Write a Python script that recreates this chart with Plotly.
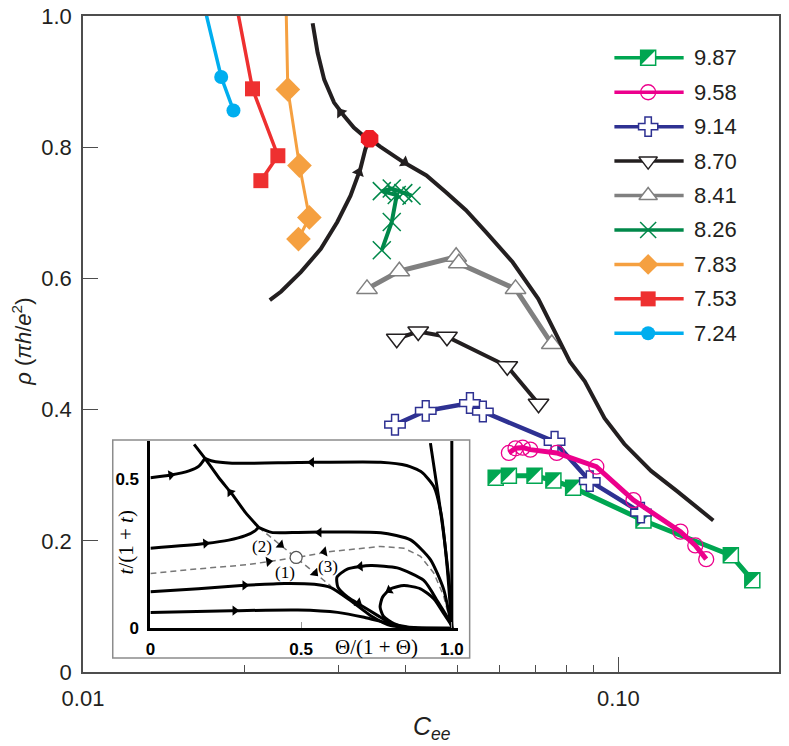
import plotly.graph_objects as go

# ---------------- main panel: rho vs C_ee ----------------
names = ["9.87", "9.58", "9.14", "8.70", "8.41", "8.26", "7.83", "7.53", "7.24"]

c_987 = [0.0590, 0.06244, 0.06972, 0.07562, 0.08232, 0.1114, 0.1622, 0.1779]
r_987 = [0.296, 0.299, 0.299, 0.292, 0.281, 0.231, 0.178, 0.140]

c_958 = [0.06244, 0.06425, 0.06627, 0.06847, 0.0767, 0.09095, 0.1067, 0.1306, 0.1392, 0.1459]
r_958 = [0.334, 0.341, 0.342, 0.339, 0.334, 0.313, 0.262, 0.214, 0.193, 0.172]

c_914 = [0.03826, 0.04367, 0.05281, 0.05583, 0.0760, 0.08841, 0.1102]
r_914 = [0.377, 0.398, 0.410, 0.397, 0.351, 0.291, 0.243]

c_870 = [0.03855, 0.04228, 0.04784, 0.06201, 0.07094]
r_870 = [0.508, 0.519, 0.511, 0.466, 0.409]

c_841 = [0.03392, 0.03898, 0.04977, 0.05034, 0.06425, 0.0751]
r_841 = [0.584, 0.611, 0.633, 0.623, 0.584, 0.500]

c_826 = [0.03615, 0.03773, 0.03855, 0.03615, 0.03773, 0.03965, 0.04108]
r_826 = [0.643, 0.686, 0.727, 0.733, 0.737, 0.730, 0.726]

c_783 = [0.0239, 0.02413, 0.02537, 0.02647, 0.02526]
r_783 = [1.05, 0.888, 0.772, 0.693, 0.660]

c_753 = [0.0190, 0.02073, 0.02312, 0.02149]
r_753 = [1.05, 0.889, 0.787, 0.749]

c_724 = [0.01645, 0.01812, 0.0191]
r_724 = [1.05, 0.907, 0.856]

# flow line through the fixed point
fp_c = [0.0343]
fp_r = [0.813]
flow_up_c = [0.02685, 0.02743, 0.02822, 0.02944, 0.03072, 0.03205, 0.03345, 0.0343]
flow_up_r = [0.989, 0.944, 0.903, 0.868, 0.848, 0.830, 0.817, 0.813]
flow_low_c = [0.0343, 0.03368, 0.03297, 0.0316, 0.02985, 0.02781, 0.02554, 0.02345, 0.02233]
flow_low_r = [0.813, 0.797, 0.767, 0.726, 0.686, 0.645, 0.610, 0.580, 0.567]
flow_right_c = [0.0343, 0.0359, 0.03971, 0.0438, 0.0477, 0.05192, 0.05654, 0.06343, 0.07085,
                0.07714, 0.08117, 0.08655, 0.09421, 0.1026, 0.1151, 0.1285, 0.1504]
flow_right_r = [0.813, 0.801, 0.777, 0.757, 0.731, 0.704, 0.671, 0.625, 0.569,
                0.508, 0.473, 0.443, 0.387, 0.3475, 0.3065, 0.276, 0.231]
flow_arrow_c = [0.03028, 0.03274, 0.03988]
flow_arrow_r = [0.853, 0.762, 0.777]
flow_arrow_ang = [-37, 21, 122]

# ---------------- inset: flow diagram t/(1+t) vs Theta/(1+Theta) ----------------
sep_x = [0.145, 0.181, 0.227, 0.271, 0.315, 0.359]
sep_y = [0.616, 0.569, 0.504, 0.449, 0.388, 0.338]
a_x = [0, 0.068, 0.128, 0.161, 0.181]
a_y = [0.504, 0.513, 0.527, 0.543, 0.569]
b_x = [0.181, 0.205, 0.271, 0.49, 0.764, 0.85, 0.90, 0.94, 0.965, 0.985, 1.0]
b_y = [0.569, 0.560, 0.553, 0.555, 0.556, 0.545, 0.523, 0.475, 0.38, 0.2, 0.0]
c_x = [0, 0.183, 0.26, 0.315, 0.348, 0.359]
c_y = [0.268, 0.284, 0.295, 0.31, 0.327, 0.338]
d_x = [0.359, 0.402, 0.49, 0.56, 0.764, 0.863, 0.929, 0.973, 1.0]
d_y = [0.338, 0.321, 0.321, 0.322, 0.320, 0.296, 0.230, 0.130, 0.0]
e_x = [0, 0.159, 0.313, 0.445, 0.544, 0.599, 0.665, 0.731, 0.797, 0.885, 1.0]
e_y = [0.1225, 0.1325, 0.1435, 0.150, 0.147, 0.136, 0.0916, 0.042, 0.0088, 0.001, 0]
f_x = [0, 0.269, 0.489, 0.621, 0.709, 0.797, 0.874, 1.0]
f_y = [0.053, 0.0585, 0.0607, 0.053, 0.0364, 0.0143, 0.002, 0]
g_x = [1.0, 0.951, 0.907, 0.819, 0.731, 0.655, 0.619, 0.622, 0.655, 0.698, 0.753, 0.808, 0.841, 1.0]
g_y = [0, 0.093, 0.16, 0.202, 0.21, 0.199, 0.171, 0.138, 0.104, 0.077, 0.043, 0.010, 0.001, 0]
h_x = [1.0, 0.973, 0.940, 0.896, 0.841, 0.797, 0.770, 0.762, 0.773, 0.808, 0.852, 1.0]
h_y = [0, 0.049, 0.099, 0.132, 0.143, 0.132, 0.104, 0.071, 0.040, 0.0157, 0.002, 0]
i_x = [0.929, 0.956, 0.978, 0.995, 1.0]
i_y = [0.62, 0.439, 0.274, 0.108, 0]
v_x = [1.0, 1.0]
v_y = [0, 0.627]
dash_x = [0, 0.159, 0.324, 0.4835, 0.599, 0.764, 0.841, 0.896, 0.940, 0.973, 1.0]
dash_y = [0.183, 0.199, 0.213, 0.237, 0.257, 0.274, 0.268, 0.241, 0.185, 0.108, 0.0]
diag_x = [0.359, 0.4835, 0.599]
diag_y = [0.338, 0.237, 0.141]
ifp_x = [0.4835]
ifp_y = [0.237]
ia_x = [0.068, 0.265, 0.535, 0.183, 0.56, 0.392, 0.577, 0.432, 0.546, 0.313, 0.69, 0.28, 0.696, 0.792]
ia_y = [0.513, 0.455, 0.556, 0.284, 0.321, 0.223, 0.256, 0.279, 0.185, 0.1435, 0.085, 0.059, 0.207, 0.127]
ia_ang = [80, -38, -90, 85, -90, 82, -100, 130, 135, 90, 125, 90, -95, -121]
lab_text = ["(2)", "(1)", "(3)"]
lab_x = [0.37, 0.445, 0.59]
lab_y = [0.274, 0.188, 0.2075]

# ---------------- styles ----------------
SANS = "Liberation Sans, Arial, Helvetica, sans-serif"
SERIF = "Liberation Serif, DejaVu Serif, serif"
INK = "#231f20"

series = [
    dict(c=c_987, r=r_987, color="#00a651", lw=5, sym="square", size=15, fill="white", olw=1.5),
    dict(c=c_914, r=r_914, color="#2e3192", lw=4.5, sym="cross", size=17, fill="white", olw=1.5),
    dict(c=c_958, r=r_958, color="#ec008c", lw=5, sym="circle-open", size=15, fill="#ec008c", olw=1.3),
    dict(c=c_870, r=r_870, color=INK, lw=4, sym="triangle-down", size=18, fill="white", olw=1.5),
    dict(c=c_841, r=r_841, color="#808080", lw=5, sym="triangle-up", size=18, fill="white", olw=1.5),
    dict(c=c_826, r=r_826, color="#00884a", lw=4, sym="x-thin-open", size=18, fill="#00884a", olw=1.5),
    dict(c=c_783, r=r_783, color="#f5a040", lw=3, sym="diamond", size=19, fill="#f5a040", olw=0),
    dict(c=c_753, r=r_753, color="#ee3030", lw=3.5, sym="square", size=15, fill="#ee3030", olw=0),
    dict(c=c_724, r=r_724, color="#00aeef", lw=3.5, sym="circle", size=14, fill="#00aeef", olw=0),
]
order = [0, 2, 1, 3, 4, 5, 6, 7, 8]  # legend row (names index) of each series above

W, H = 789, 746
ML, MR, MT, MB = 83, 4, 13, 74
PW, PH = W - ML - MR, H - MT - MB
XLOG = [-2, -0.7]
PX_DEC = PW / (XLOG[1] - XLOG[0])
TRI_SHIFT = 2.5  # px, seats the right-angle triangle inside the square

fig = go.Figure()

for k, s in enumerate(series):
    line_col = s["color"]
    fig.add_trace(go.Scatter(
        x=s["c"], y=s["r"], mode="lines+markers",
        line=dict(color=line_col, width=s["lw"]),
        marker=dict(symbol=s["sym"], size=s["size"], color=s["fill"],
                    line=dict(color=line_col, width=s["olw"])),
        showlegend=False))
    if k == 0:
        fig.add_trace(go.Scatter(
            x=[c * 10 ** (-TRI_SHIFT / PX_DEC) for c in s["c"]],
            y=[r + TRI_SHIFT / PH for r in s["r"]],
            mode="markers",
            marker=dict(symbol="triangle-nw", size=s["size"] * 1.11, color=line_col, line=dict(width=0)),
            showlegend=False))

for fc, fr in [(flow_up_c, flow_up_r), (flow_low_c, flow_low_r), (flow_right_c, flow_right_r)]:
    fig.add_trace(go.Scatter(x=fc, y=fr, mode="lines", line=dict(color=INK, width=4),
                             showlegend=False))
fig.add_trace(go.Scatter(x=flow_arrow_c, y=flow_arrow_r, mode="markers",
                         marker=dict(symbol="triangle-up", size=11, color=INK, angle=flow_arrow_ang),
                         showlegend=False))
fig.add_trace(go.Scatter(x=fp_c, y=fp_r, mode="markers",
                         marker=dict(symbol="octagon", size=19, color="#ed1c24"),
                         showlegend=False))

# ---- inset traces ----
for dx, dy in [(dash_x, dash_y), (diag_x, diag_y)]:
    fig.add_trace(go.Scatter(x=dx, y=dy, mode="lines", xaxis="x2", yaxis="y2",
                             line=dict(color="#777777", width=1.5, dash="6px,4px"), showlegend=False))
for cx, cy in [(sep_x, sep_y), (a_x, a_y), (b_x, b_y), (c_x, c_y), (d_x, d_y), (e_x, e_y),
               (f_x, f_y), (g_x, g_y), (h_x, h_y), (i_x, i_y), (v_x, v_y)]:
    fig.add_trace(go.Scatter(x=cx, y=cy, mode="lines", xaxis="x2", yaxis="y2",
                             line=dict(color="black", width=3, shape="spline", smoothing=0.6),
                             showlegend=False))
fig.add_trace(go.Scatter(x=ifp_x, y=ifp_y, mode="markers", xaxis="x2", yaxis="y2",
                         marker=dict(symbol="circle", size=12, color="white",
                                     line=dict(color="#555555", width=1.2)),
                         showlegend=False))
fig.add_trace(go.Scatter(x=ia_x, y=ia_y, mode="markers", xaxis="x2", yaxis="y2",
                         marker=dict(symbol="triangle-up", size=9, color="black", angle=ia_ang),
                         showlegend=False))

# ---- hand-drawn legend on a hidden full-size axis ----
LEG_X0, LEG_X1, LEG_XM, LEG_XT = 0.7635, 0.863, 0.812, 0.8746
LEG_Y0, LEG_DY = 0.9363, 0.0525
annotations = []
for k, s in enumerate(series):
    i = order[k]
    yy = LEG_Y0 - i * LEG_DY
    fig.add_trace(go.Scatter(x=[LEG_X0, LEG_X1], y=[yy, yy], mode="lines", xaxis="x3", yaxis="y3",
                             line=dict(color=s["color"], width=3.5), showlegend=False))
    msize = min(s["size"], 16)
    fig.add_trace(go.Scatter(x=[LEG_XM], y=[yy], mode="markers", xaxis="x3", yaxis="y3",
                             marker=dict(symbol=s["sym"], size=msize, color=s["fill"],
                                         line=dict(color=s["color"], width=s["olw"])),
                             showlegend=False))
    if k == 0:
        fig.add_trace(go.Scatter(x=[LEG_XM - TRI_SHIFT / PW], y=[yy + TRI_SHIFT / PH], mode="markers",
                                 xaxis="x3", yaxis="y3",
                                 marker=dict(symbol="triangle-nw", size=msize * 1.11, color=s["color"],
                                             line=dict(width=0)),
                                 showlegend=False))
    annotations.append(dict(x=LEG_XT, y=yy, xref="paper", yref="paper", text=names[i],
                            showarrow=False, xanchor="left", yanchor="middle",
                            font=dict(family=SANS, size=22, color=INK)))

for t, lx, ly in zip(lab_text, lab_x, lab_y):
    annotations.append(dict(x=lx, y=ly, xref="x2", yref="y2", text=t, showarrow=False,
                            xanchor="center", yanchor="middle",
                            font=dict(family=SERIF, size=17, color="black")))

titles = [
    dict(x=0.5014, y=-0.085, text="<i>C<sub>ee</sub></i>", angle=0, font=dict(family=SANS, size=25, color=INK)),
    dict(x=-0.087, y=0.504, text="<i>ρ</i> (<i>πh</i>/<i>e</i><sup>2</sup>)", angle=-90,
         font=dict(family=SANS, size=22, color=INK)),
    dict(x=0.4217, y=0.038, text="Θ/(1 + Θ)", angle=0, font=dict(family=SERIF, size=21, color="black")),
    dict(x=0.0613, y=0.197, text="<i>t</i>/(1 + <i>t</i>)", angle=-90,
         font=dict(family=SERIF, size=21, color="black")),
]
for t in titles:
    annotations.append(dict(x=t["x"], y=t["y"], xref="paper", yref="paper", text=t["text"],
                            textangle=t["angle"], showarrow=False, xanchor="center",
                            yanchor="middle", font=t["font"]))

axis_line = "#4d4d4d"
inset_tick_font = dict(family=SANS, size=17, color="black", weight="bold")
fig.update_layout(
    width=W, height=H,
    margin=dict(l=ML, r=MR, t=MT, b=MB),
    paper_bgcolor="white",
    plot_bgcolor="rgba(0,0,0,0)",
    showlegend=False,
    xaxis=dict(type="log", range=XLOG, showgrid=False, zeroline=False,
               showline=True, mirror=True, linecolor=axis_line, linewidth=1.5,
               ticks="inside", ticklen=15, tickwidth=1.2, tickcolor=axis_line,
               tickvals=[0.01, 0.1], ticktext=["0.01", "0.10"],
               minor=dict(ticks="inside", ticklen=7, tickwidth=1.2, tickcolor=axis_line,
                          tickvals=[0.02, 0.03, 0.04, 0.05, 0.06, 0.07, 0.08, 0.09]),
               tickfont=dict(family=SANS, size=22, color=INK), ticklabelstandoff=6,
               ticklabeloverflow="allow"),
    yaxis=dict(range=[0, 1], showgrid=False, zeroline=False,
               showline=True, mirror=True, linecolor=axis_line, linewidth=1.5,
               ticks="inside", ticklen=15, tickwidth=1.2, tickcolor=axis_line,
               tickvals=[0, 0.2, 0.4, 0.6, 0.8, 1.0],
               ticktext=["0", "0.2", "0.4", "0.6", "0.8", "1.0"],
               tickfont=dict(family=SANS, size=22, color=INK), ticklabelstandoff=5,
               ticklabeloverflow="allow"),
    xaxis2=dict(domain=[(151 - ML) / PW, (151 + 1.02 * 304 - ML) / PW], range=[0, 1.02],
                anchor="y2", showgrid=False, zeroline=False,
                showline=True, linecolor="black", linewidth=3,
                ticks="inside", ticklen=6, tickcolor="#999999",
                tickvals=[0, 0.5, 1.0], ticktext=["0", "0.5", "1.0"],
                tickfont=inset_tick_font, ticklabelstandoff=3),
    yaxis2=dict(domain=[(H - MB - 628) / PH, (H - MB - 440) / PH], range=[0, 0.627],
                anchor="x2", showgrid=False, zeroline=False,
                showline=True, linecolor="black", linewidth=3, ticks="",
                tickvals=[0, 0.5], ticktext=["0", "0.5"],
                tickfont=inset_tick_font, ticklabelstandoff=5),
    xaxis3=dict(domain=[0, 1], range=[0, 1], anchor="y3", visible=False),
    yaxis3=dict(domain=[0, 1], range=[0, 1], anchor="x3", visible=False),
    shapes=[dict(type="rect", xref="paper", yref="paper",
                 x0=(113 - ML) / PW, x1=(473 - ML) / PW,
                 y0=(H - MB - 658) / PH, y1=(H - MB - 439) / PH,
                 line=dict(color="#8c8c8c", width=1.5), fillcolor="white", layer="below")],
    annotations=annotations,
)

# the page has a default 8px body margin; drop it so the figure sits at the window corner
fig.write_html("out.html", config={"displayModeBar": False},
               post_script="document.body.style.margin = '0px';")
